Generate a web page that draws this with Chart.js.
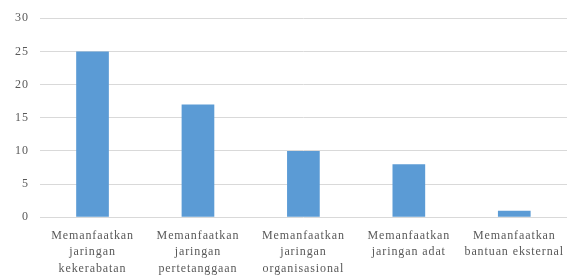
<!DOCTYPE html>
<html>
<head>
<meta charset="utf-8">
<script src="https://cdn.jsdelivr.net/npm/chart.js@4/dist/chart.umd.min.js"></script>
<style>
  html, body { margin: 0; padding: 0; background: #fff; }
  #wrap { width: 568px; height: 278px; }
</style>
</head>
<body>
<div id="wrap"><canvas id="myChart"></canvas></div>
<script>
"use strict";

var categories = [
    ["Memanfaatkan", "jaringan", "kekerabatan"],
    ["Memanfaatkan", "jaringan", "pertetanggaan"],
    ["Memanfaatkan", "jaringan", "organisasional"],
    ["Memanfaatkan", "jaringan adat"],
    ["Memanfaatkan", "bantuan eksternal"]
];
var values = [25, 17, 10, 8, 1];
var yMax = 30;
var yStep = 5;

// the original text is set a little wide, so spread the letters
var letterSpacing = {
    id: 'letterSpacing',
    beforeUpdate: function (chart) { chart.ctx.letterSpacing = '0.9px'; },
    beforeDraw: function (chart) { chart.ctx.letterSpacing = '0.9px'; }
};

var ctx = document.getElementById('myChart');

new Chart(ctx, {
    type: 'bar',
    data: {
        labels: categories,
        datasets: [{
            label: "Jumlah",
            data: values,
            backgroundColor: "#5b9bd5",
            borderWidth: 0,
            barPercentage: 0.31,
            categoryPercentage: 1
        }]
    },
    options: {
        responsive: true,
        maintainAspectRatio: false,
        animation: false,
        // x tick padding is reserved twice below the labels, take it back
        layout: { padding: { left: 4, right: 1, top: 8, bottom: -9 } },
        plugins: {
            legend: { display: false },
            tooltip: { enabled: false }
        },
        scales: {
            x: {
                grid: { display: false, drawTicks: false },
                border: { display: false },
                // labels fit inside their category, no side padding needed
                afterFit: function (scale) {
                    scale.paddingLeft = 0;
                    scale.paddingRight = 0;
                },
                ticks: {
                    maxRotation: 0,
                    autoSkip: false,
                    padding: 10,
                    color: "#595959",
                    font: { family: "Liberation Serif", size: 12, lineHeight: 1.38 }
                }
            },
            y: {
                min: 0,
                max: yMax,
                grid: { color: "#d9d9d9", lineWidth: 1, drawTicks: false },
                border: { display: false },
                ticks: {
                    stepSize: yStep,
                    padding: 11,
                    color: "#595959",
                    font: { family: "Liberation Serif", size: 12 }
                }
            }
        }
    },
    plugins: [letterSpacing]
});
</script>
</body>
</html>
